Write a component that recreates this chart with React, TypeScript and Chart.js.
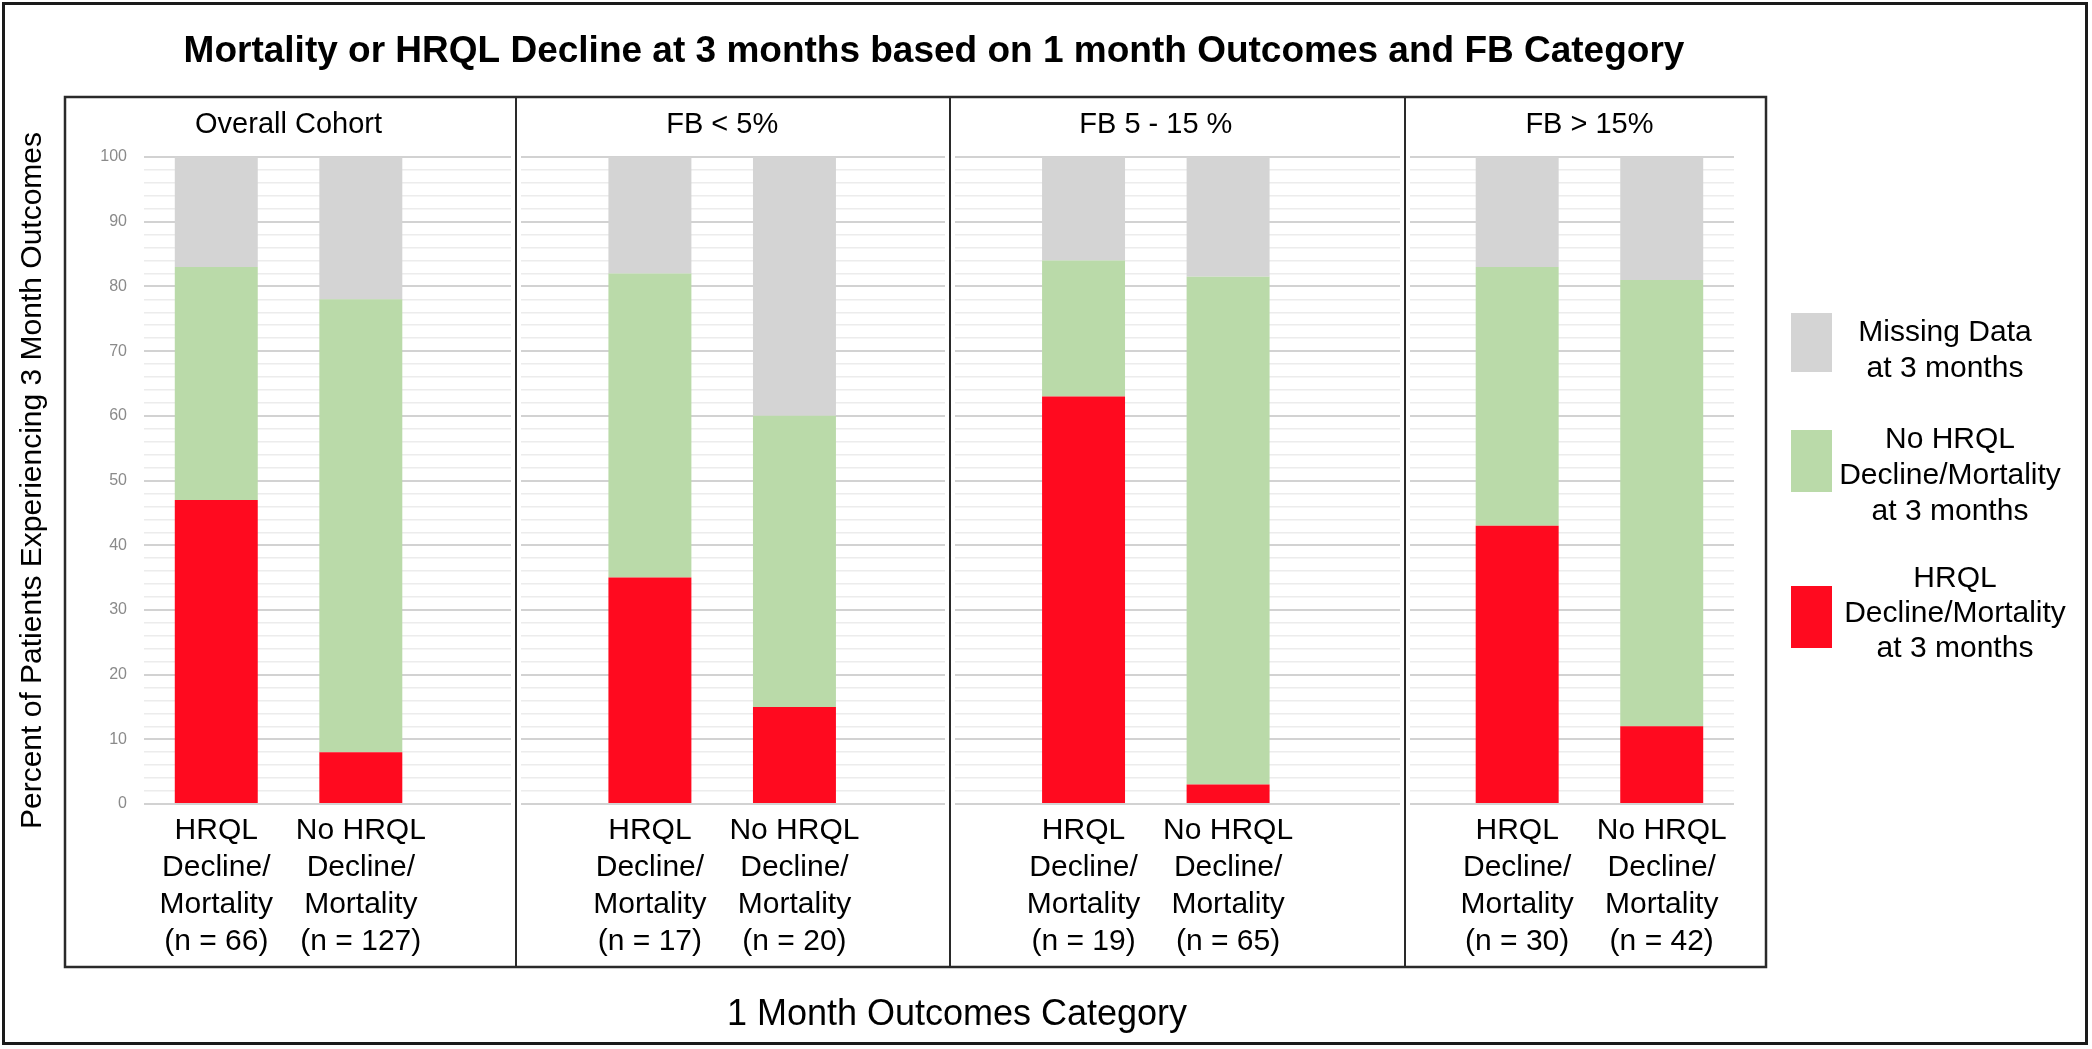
import React, { useEffect, useRef } from 'react';
import { Chart, registerables } from 'chart.js';

Chart.register(...registerables);

// ---------- data ----------
const chartTitle = 'Mortality or HRQL Decline at 3 months based on 1 month Outcomes and FB Category';
const yAxisTitle = 'Percent of Patients Experiencing 3 Month Outcomes';
const xAxisTitle = '1 Month Outcomes Category';
const panelNames = ['Overall Cohort', 'FB < 5%', 'FB 5 - 15 %', 'FB > 15%'];
const outcomeLabels = [
  ['HRQL', 'Decline/', 'Mortality'],
  ['No HRQL', 'Decline/', 'Mortality'],
];
const nCounts = [66, 127, 17, 20, 19, 65, 30, 42];
// stacked segments (percent), bottom to top
const declineValues = [47, 8, 35, 15, 63, 3, 43, 12];
const noDeclineValues = [36, 70, 47, 45, 21, 78.5, 40, 69];
const missingValues = [17, 22, 18, 40, 16, 18.5, 17, 19];
const seriesLabels = [
  ['HRQL', 'Decline/Mortality', 'at 3 months'],
  ['No HRQL', 'Decline/Mortality', 'at 3 months'],
  ['Missing Data', 'at 3 months'],
];
const seriesColors = ['#FF0A1F', '#BADAA9', '#D4D4D4'];

const FONT = "'Liberation Sans', Arial, Helvetica, sans-serif";

// build slots: two bars per panel, an empty slot between panels
const slotLabels: (string | string[])[] = [];
const slotIndex: (number | null)[] = [];
panelNames.forEach((_, p) => {
  for (let j = 0; j < 2; j++) {
    const k = p * 2 + j;
    slotLabels.push([...outcomeLabels[j], `(n = ${nCounts[k]})`]);
    slotIndex.push(k);
  }
  if (p < panelNames.length - 1) {
    slotLabels.push('');
    slotIndex.push(null);
  }
});
const toSlots = (arr: number[]) => slotIndex.map((k) => (k === null ? null : arr[k]));

const decorPlugin = {
  id: 'decor',
  afterDraw(chart: any) {
    const { ctx, chartArea, scales } = chart;
    const xs = scales.x;
    const slot = xs.getPixelForValue(1) - xs.getPixelForValue(0);
    ctx.save();

    // outer frame
    ctx.strokeStyle = '#1a1a1a';
    ctx.lineWidth = 3;
    ctx.strokeRect(3.5, 3.5, 2083, 1040);

    // title
    ctx.fillStyle = '#000';
    ctx.font = `bold 37px ${FONT}`;
    ctx.textAlign = 'center';
    ctx.textBaseline = 'alphabetic';
    ctx.fillText(chartTitle, (chartArea.left + chartArea.right) / 2 - 5, 62);

    // panel box
    const boxL = chartArea.left - 79;
    const boxR = chartArea.right + 32;
    const boxT = chartArea.top - 60;
    const boxB = chartArea.bottom + 163;
    ctx.strokeStyle = '#2a2a2a';
    ctx.lineWidth = 2.5;
    ctx.strokeRect(boxL, boxT, boxR - boxL, boxB - boxT);

    // dividers in gap slots
    const dividerShift = [0.073, 0.076, 0.225];
    let g = 0;
    slotIndex.forEach((k, i) => {
      if (k !== null) return;
      const dx = Math.round(xs.getPixelForValue(i) + dividerShift[g] * slot);
      g++;
      ctx.fillStyle = '#fff';
      ctx.fillRect(dx - 5, chartArea.top - 2, 10, chartArea.bottom - chartArea.top + 4);
      ctx.beginPath();
      ctx.moveTo(dx, boxT);
      ctx.lineTo(dx, boxB);
      ctx.lineWidth = 2;
      ctx.strokeStyle = '#2a2a2a';
      ctx.stroke();
    });

    // panel titles, centered over each bar pair
    ctx.fillStyle = '#000';
    ctx.font = `29px ${FONT}`;
    ctx.textAlign = 'center';
    panelNames.forEach((name, p) => {
      const i0 = p * 3;
      const cx = (xs.getPixelForValue(i0) + xs.getPixelForValue(i0 + 1)) / 2;
      ctx.fillText(name, cx, 133);
    });

    // x axis title
    ctx.font = `36px ${FONT}`;
    ctx.fillText(xAxisTitle, 957, 1025);

    // y axis title
    ctx.save();
    ctx.translate(33, (chartArea.top + chartArea.bottom) / 2);
    ctx.rotate(-Math.PI / 2);
    ctx.font = `30px ${FONT}`;
    ctx.textBaseline = 'middle';
    ctx.fillText(yAxisTitle, 0, 0);
    ctx.restore();

    // legend (top to bottom: missing, no decline, decline)
    const legendOrder = [2, 1, 0];
    const squares = [
      [313, 372],
      [430, 492],
      [586, 648],
    ];
    const lineCenters = [
      [332, 368],
      [439, 475, 511],
      [578, 613, 648],
    ];
    const textX = [1945, 1950, 1955];
    ctx.font = `30px ${FONT}`;
    ctx.textBaseline = 'middle';
    legendOrder.forEach((s, r) => {
      ctx.fillStyle = seriesColors[s];
      ctx.fillRect(1791, squares[r][0], 41, squares[r][1] - squares[r][0]);
      ctx.fillStyle = '#000';
      seriesLabels[s].forEach((line, li) => {
        ctx.fillText(line, textX[r], lineCenters[r][li] + 1);
      });
    });

    ctx.restore();
  },
};

export default function App() {
  const canvasRef = useRef<HTMLCanvasElement | null>(null);

  useEffect(() => {
    const canvas = canvasRef.current;
    if (!canvas) return;
    const datasetValues = [declineValues, noDeclineValues, missingValues];
    const chart = new Chart(canvas, {
      type: 'bar',
      data: {
        labels: slotLabels,
        datasets: datasetValues.map((vals, s) => ({
          label: seriesLabels[s].join(' '),
          data: toSlots(vals),
          backgroundColor: seriesColors[s],
          borderWidth: 0,
          categoryPercentage: 1,
          barPercentage: 0.574,
        })),
      },
      options: {
        responsive: false,
        animation: false,
        devicePixelRatio: 1,
        layout: { padding: { left: 0, right: 358, top: 157, bottom: 0 } },
        plugins: {
          legend: { display: false },
          title: { display: false },
          tooltip: { enabled: false },
        },
        scales: {
          x: {
            stacked: true,
            grid: { display: false, drawTicks: false },
            border: { display: false },
            ticks: {
              color: '#000',
              padding: 8,
              autoSkip: false,
              maxRotation: 0,
              font: { family: FONT, size: 30, lineHeight: 1.233 },
            },
            afterFit: (axis: any) => {
              axis.height = 245;
            },
          },
          y: {
            stacked: true,
            min: 0,
            max: 100,
            grid: {
              drawTicks: false,
              color: (c: any) => (c.tick && c.tick.value % 10 === 0 ? '#d2d2d2' : '#ececec'),
              lineWidth: (c: any) => (c.tick && c.tick.value % 10 === 0 ? 2 : 1.5),
            },
            border: { display: false },
            ticks: {
              stepSize: 2,
              autoSkip: false,
              padding: 17,
              color: '#8a8a8a',
              font: { family: FONT, size: 16 },
              callback: (v: any) => (Number(v) % 10 === 0 ? String(v) : ''),
            },
            afterFit: (axis: any) => {
              axis.width = 144;
            },
          },
        },
      },
      plugins: [decorPlugin],
    });
    return () => chart.destroy();
  }, []);

  return (
    <div style={{ position: 'fixed', left: 0, top: 0, width: 2092, height: 1049, background: '#fff' }}>
      <canvas ref={canvasRef} width={2092} height={1049} style={{ display: 'block' }} />
    </div>
  );
}
